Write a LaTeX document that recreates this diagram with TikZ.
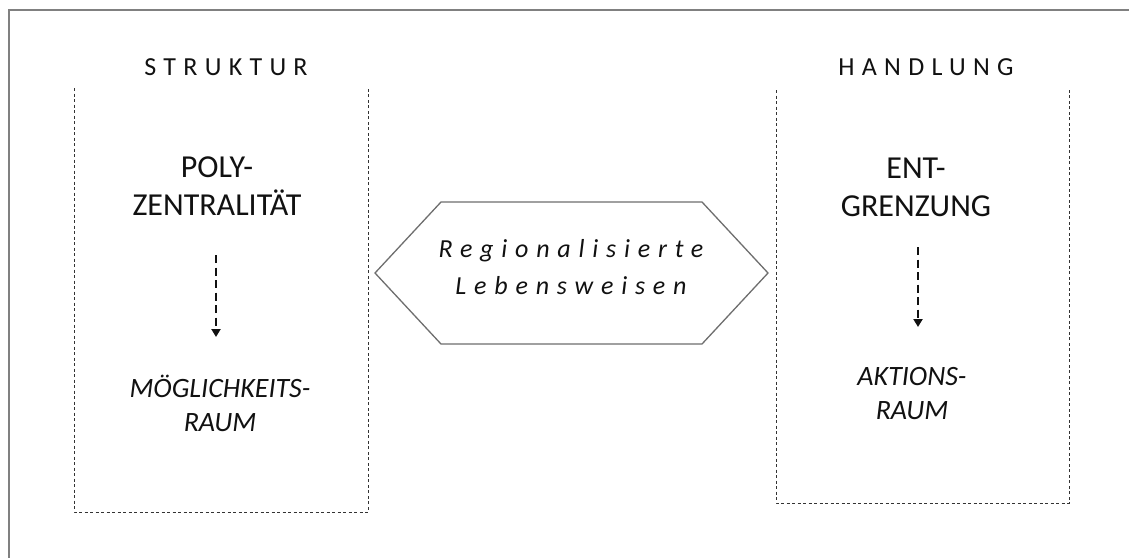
\documentclass[tikz,border=0pt]{standalone}
\usepackage{fontspec}
\setmainfont{Carlito}
\usetikzlibrary{arrows.meta}
\definecolor{frame}{HTML}{808080}
\definecolor{ink}{HTML}{111111}
\definecolor{boxline}{HTML}{333333}
\definecolor{hexline}{HTML}{6E6E6E}
\tikzset{
  header/.style={font=\fontsize{26}{31}\selectfont\addfontfeature{LetterSpace=28}, text=ink, inner sep=0pt, anchor=center},
  maintext/.style={font=\fontsize{32}{38}\selectfont, text=ink, align=center, inner sep=0pt},
  subtext/.style={font=\fontsize{28}{34}\selectfont\itshape, text=ink, align=center, inner sep=0pt},
  hextext/.style={font=\fontsize{26}{37}\selectfont\itshape\addfontfeature{LetterSpace=30}, text=ink, align=center, inner sep=0pt},
  dashbox/.style={draw=boxline, line width=1pt, dash pattern=on 3pt off 2.5pt},
  flowarrow/.style={draw=ink, line width=2.4pt, dash pattern=on 8pt off 4.5pt, -{Triangle[length=8pt,width=9pt]}},
  hexshape/.style={draw=hexline, line width=1.3pt, fill=white},
  outerframe/.style={draw=frame, line width=2.5pt}
}
\begin{document}
\begin{tikzpicture}[x=1pt,y=-1pt]
\useasboundingbox (0,0) rectangle (1129,557);
\fill[white] (0,0) rectangle (1129,557);
% outer frame (left and top edges visible)
\draw[outerframe] (9,560) -- (9,10) -- (1132,10);

% left box
\coordinate (lb1) at (74,88);
\coordinate (lb2) at (74,512);
\coordinate (lb3) at (368,512);
\coordinate (lb4) at (368,88);
\draw[dashbox] (lb1) -- (lb2) -- (lb3) -- (lb4);

% right box
\coordinate (rb1) at (776,90);
\coordinate (rb2) at (776,503);
\coordinate (rb3) at (1069,503);
\coordinate (rb4) at (1069,90);
\draw[dashbox] (rb1) -- (rb2) -- (rb3) -- (rb4);

% headers
\node[header] (struktur) at (226,67) {STRUKTUR};
\node[header] (handlung) at (926,67) {HANDLUNG};

% left column
\node[maintext] (poly) at (217,186) {POLY-\\ZENTRALITÄT};
\node[subtext] (moeg) at (220,403) {MÖGLICHKEITS-\\RAUM};
\coordinate (la1) at (216,255);
\coordinate (la2) at (216,337);
\draw[flowarrow] (la1) -- (la2);

% right column
\node[maintext] (ent) at (916,187) {ENT-\\GRENZUNG};
\node[subtext] (akt) at (912,394) {AKTIONS-\\RAUM};
\coordinate (ra1) at (918,247);
\coordinate (ra2) at (918,327);
\draw[flowarrow] (ra1) -- (ra2);

% hexagon
\coordinate (h1) at (375,273);
\coordinate (h2) at (441,202);
\coordinate (h3) at (702,202);
\coordinate (h4) at (768,273);
\coordinate (h5) at (702,344);
\coordinate (h6) at (441,344);
\draw[hexshape] (h1) -- (h2) -- (h3) -- (h4) -- (h5) -- (h6) -- cycle;
\node[hextext] (reg) at (571,267) {Regionalisierte\\Lebensweisen};
\end{tikzpicture}
\end{document}
